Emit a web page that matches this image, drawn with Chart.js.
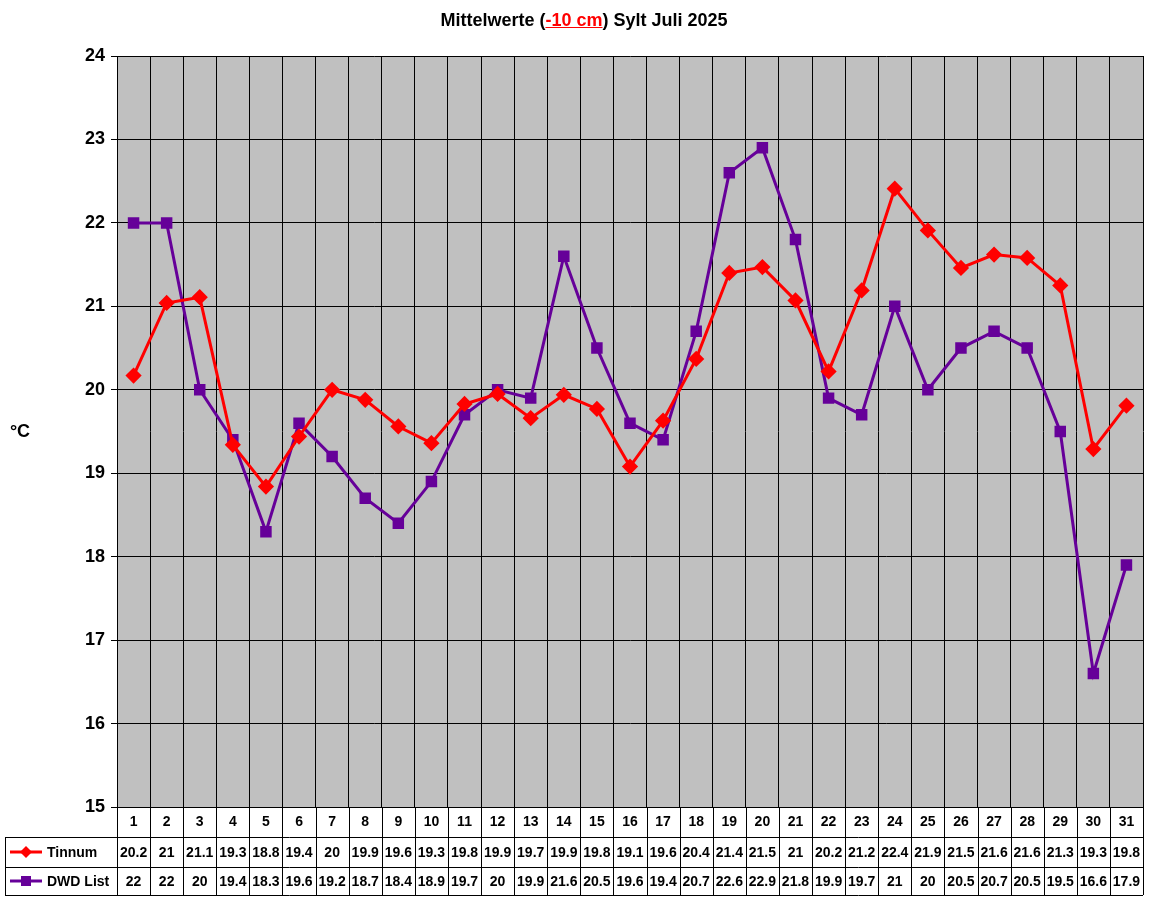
<!DOCTYPE html>
<html><head><meta charset="utf-8">
<script src="https://cdn.jsdelivr.net/npm/chart.js@4"></script>
<style>
body{margin:0;background:#fff;font-family:"Liberation Sans",Arial,sans-serif;}
#t{position:absolute;top:10px;left:0;width:1168px;text-align:center;font-weight:bold;font-size:18px;}
#t span{color:#f00;text-decoration:underline;}
#wrap{position:absolute;left:0;top:0;width:1152px;height:900px;}
</style></head><body>
<div id="wrap"><canvas id="c" width="1152" height="900"></canvas></div>
<div id="t">Mittelwerte (<span>-10 cm</span>) Sylt Juli 2025</div>
<script>
const days=[1,2,3,4,5,6,7,8,9,10,11,12,13,14,15,16,17,18,19,20,21,22,23,24,25,26,27,28,29,30,31].map(String);
const tinnum=[20.17,21.04,21.11,19.34,18.84,19.44,20.0,19.88,19.56,19.36,19.83,19.95,19.66,19.94,19.77,19.08,19.63,20.37,21.4,21.47,21.07,20.22,21.19,22.41,21.91,21.46,21.62,21.58,21.25,19.29,19.81];
const dwd=[22,22,20,19.4,18.3,19.6,19.2,18.7,18.4,18.9,19.7,20,19.9,21.6,20.5,19.6,19.4,20.7,22.6,22.9,21.8,19.9,19.7,21,20,20.5,20.7,20.5,19.5,16.6,17.9];
const tinnumLbl=["20.2","21","21.1","19.3","18.8","19.4","20","19.9","19.6","19.3","19.8","19.9","19.7","19.9","19.8","19.1","19.6","20.4","21.4","21.5","21","20.2","21.2","22.4","21.9","21.5","21.6","21.6","21.3","19.3","19.8"];
const dwdLbl=dwd.map(v=>String(v));
const yTicks=[15,16,17,18,19,20,21,22,23,24];
const RED='#ff0000',PUR='#660099';
const tablePlugin={id:'tbl',
 beforeDraw(ch){const a=ch.chartArea,c=ch.ctx;c.save();c.fillStyle='#c0c0c0';c.fillRect(a.left,a.top,a.right-a.left,a.bottom-a.top);c.restore();},
 afterDraw(ch){const a=ch.chartArea,c=ch.ctx,x=ch.scales.x;c.save();
  const rows=[a.bottom,a.bottom+30,a.bottom+60,a.bottom+88];
  const L=5,step=(a.right-a.left)/days.length;
  c.strokeStyle='#000';c.lineWidth=1;
  [rows[1],rows[2],rows[3]].forEach(y=>{c.beginPath();c.moveTo(L,y+.5);c.lineTo(a.right,y+.5);c.stroke();});
  c.beginPath();c.moveTo(a.left,rows[0]+.5);c.lineTo(a.right,rows[0]+.5);c.stroke();
  for(let i=0;i<=days.length;i++){const xx=Math.round(a.left+i*step)+.5;c.beginPath();c.moveTo(xx,rows[0]);c.lineTo(xx,rows[3]);c.stroke();}
  c.beginPath();c.moveTo(L+.5,rows[1]);c.lineTo(L+.5,rows[3]);c.stroke();
  c.font='bold 14px "Liberation Sans",Arial';c.fillStyle='#000';c.textAlign='center';c.textBaseline='middle';
  days.forEach((d,i)=>{const px=x.getPixelForValue(i);
   c.fillText(d,px,(rows[0]+rows[1])/2);
   c.fillText(tinnumLbl[i],px,(rows[1]+rows[2])/2+1);
   c.fillText(dwdLbl[i],px,(rows[2]+rows[3])/2+1);});
  const ky1=(rows[1]+rows[2])/2,ky2=(rows[2]+rows[3])/2;
  c.lineWidth=3;c.strokeStyle=RED;c.beginPath();c.moveTo(10,ky1);c.lineTo(42,ky1);c.stroke();
  c.fillStyle=RED;c.beginPath();c.moveTo(26,ky1-6);c.lineTo(32,ky1);c.lineTo(26,ky1+6);c.lineTo(20,ky1);c.closePath();c.fill();
  c.strokeStyle=PUR;c.beginPath();c.moveTo(10,ky2);c.lineTo(42,ky2);c.stroke();
  c.fillStyle=PUR;c.fillRect(21,ky2-5,10,10);
  c.fillStyle='#000';c.textAlign='left';
  c.fillText('Tinnum',47,ky1+1);c.fillText('DWD List',47,ky2+1);
  c.font='bold 18px "Liberation Sans",Arial';c.textAlign='center';c.fillText('°C',20,432);
  c.restore();}};
new Chart(document.getElementById('c'),{type:'line',
 data:{labels:days,datasets:[
  {label:'Tinnum',data:tinnum,borderColor:RED,backgroundColor:RED,borderWidth:3,pointStyle:'rectRot',pointRadius:6,pointHoverRadius:6,tension:0},
  {label:'DWD List',data:dwd,borderColor:PUR,backgroundColor:PUR,borderWidth:3,pointStyle:'rect',pointRadius:6,pointHoverRadius:6,tension:0}]},
 options:{responsive:false,animation:false,events:[],
  layout:{padding:{top:56,right:1,left:0,bottom:5}},
  plugins:{legend:{display:false},tooltip:{enabled:false}},
  scales:{
   x:{offset:true,grid:{offset:true,color:'#000',drawTicks:false},border:{color:'#000'},ticks:{display:false},
      afterFit(s){s.height=88;}},
   y:{min:15,max:24,grid:{color:'#000',drawTicks:true,tickLength:6},border:{color:'#000'},
      afterBuildTicks(s){s.ticks=yTicks.map(v=>({value:v}));},
      ticks:{color:'#000',font:{family:'"Liberation Sans",Arial',size:18,weight:'bold'},padding:6},
      afterFit(s){s.width=117;}}}},
 plugins:[tablePlugin]});
</script></body></html>
